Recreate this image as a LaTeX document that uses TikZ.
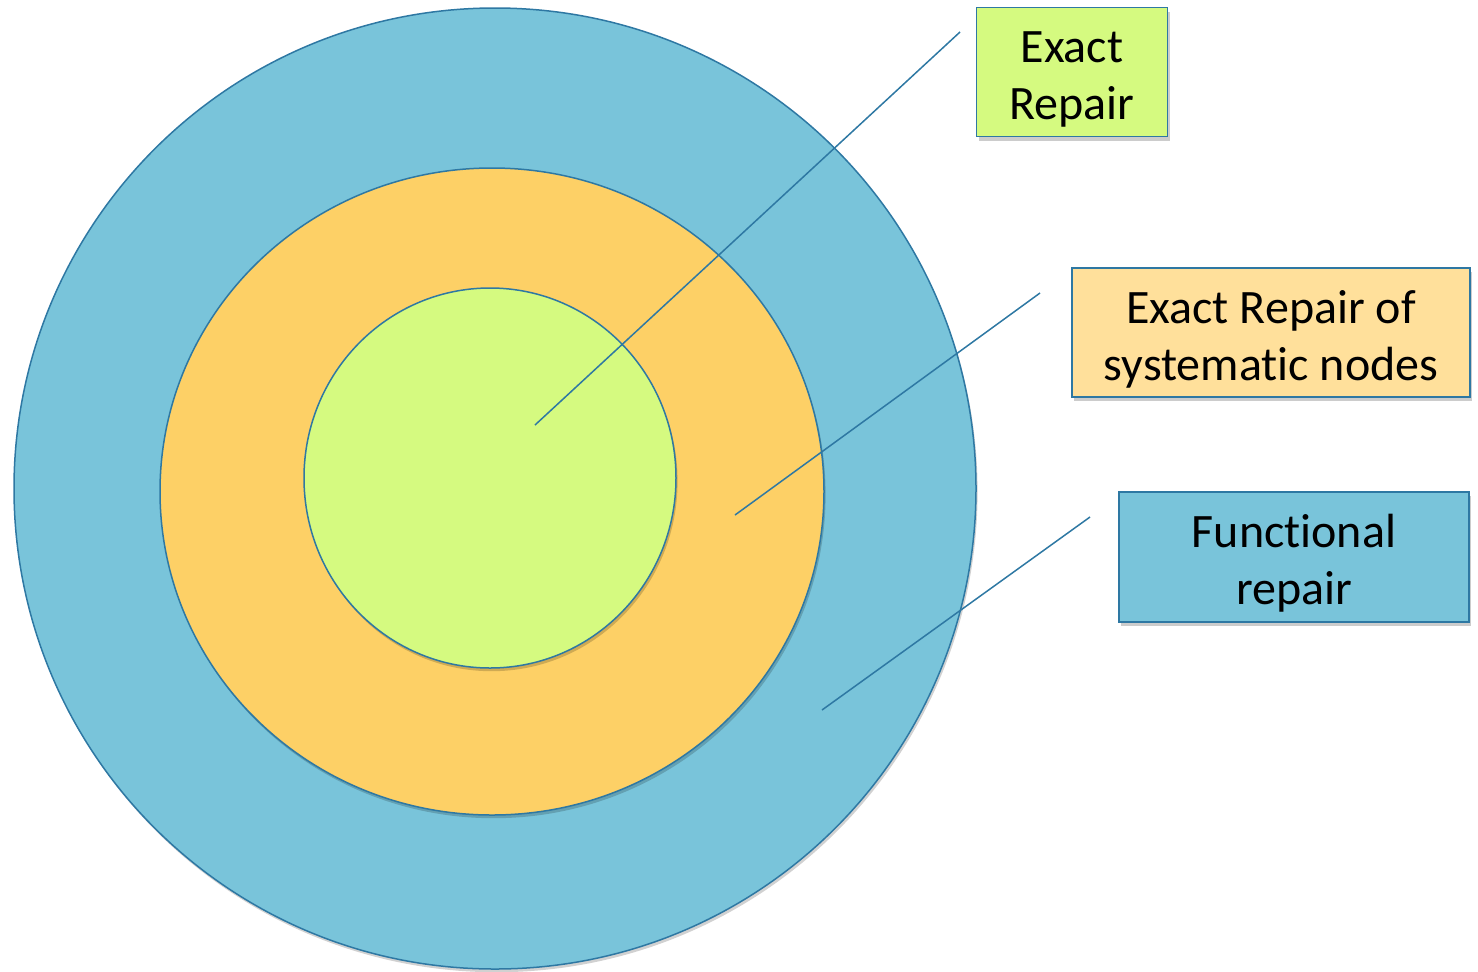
\documentclass[tikz,border=0pt]{standalone}
\usepackage{fontspec}
\setmainfont[Ligatures=NoCommon]{Carlito}
\usetikzlibrary{shapes.geometric,shadows}
\definecolor{ringblue}{HTML}{79C4DA}
\definecolor{ringorange}{HTML}{FDD066}
\definecolor{ringgreen}{HTML}{D5FA80}
\definecolor{boxorange}{HTML}{FFE09B}
\definecolor{edgeblue}{HTML}{2E78A3}
% two centred lines, set a little below the box centre
\newcommand{\boxlines}[1]{\raisebox{-4pt}[\height][\depth]{\begin{tabular}{@{}c@{}}#1\end{tabular}}}
\tikzset{
  ring/.style={ellipse, draw=edgeblue, line width=0.75pt, inner sep=0pt,
    drop shadow={shadow xshift=0.8pt, shadow yshift=-1.6pt, opacity=0.18, fill=black}},
  labelbox/.style={rectangle, draw=edgeblue, line width=0.9pt,
    inner sep=0pt, font=\fontsize{24}{28.5}\selectfont,
    drop shadow={shadow xshift=1pt, shadow yshift=-2pt, opacity=0.2, fill=black}},
  leader/.style={draw=edgeblue, line width=0.75pt}
}
\begin{document}
\begin{tikzpicture}[x=0.5pt, y=-0.5pt]
  \useasboundingbox (0,0) rectangle (1478,971);
  % nested rings
  \node[ring, fill=ringblue, minimum width=481pt, minimum height=480.5pt] (outer) at (495,488.5) {};
  \node[ring, fill=ringorange, minimum width=332pt, minimum height=323.5pt] (middle) at (492,491.5) {};
  \node[ring, fill=ringgreen, minimum width=186pt, minimum height=190pt] (inner) at (490,478) {};
  % label boxes
  \node[labelbox, fill=ringgreen, minimum width=95.5pt, minimum height=64.5pt] (exact) at (1072,72) {\boxlines{Exact\\Repair}};
  \node[labelbox, fill=boxorange, minimum width=199pt, minimum height=64.5pt] (systematic) at (1271,332.5) {\boxlines{Exact Repair of\\systematic nodes}};
  \node[labelbox, fill=ringblue, minimum width=175pt, minimum height=65pt] (functional) at (1294,557) {\boxlines{Functional\\repair}};
  % leader lines
  \coordinate (exactend) at (960,32);
  \coordinate (exacttip) at (535,425);
  \coordinate (sysend) at (1040,293);
  \coordinate (systip) at (735,515);
  \coordinate (funcend) at (1090,517);
  \coordinate (functip) at (822,710);
  \draw[leader] (exactend) -- (exacttip);
  \draw[leader] (sysend) -- (systip);
  \draw[leader] (funcend) -- (functip);
\end{tikzpicture}
\end{document}
